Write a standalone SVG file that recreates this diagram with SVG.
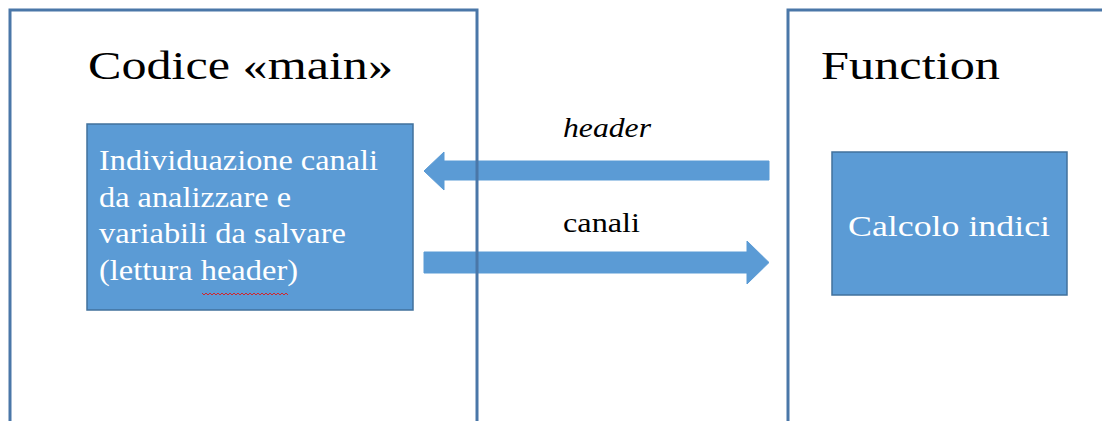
<svg xmlns="http://www.w3.org/2000/svg" width="1102" height="421" viewBox="0 0 1102 421">
  <style>
    .frame { fill: none; stroke: #4a77a8; stroke-width: 3; }
    .box { fill: #5b9bd5; stroke: #41719c; stroke-width: 1.5; }
    .arrow { fill: #5b9bd5; stroke: #5b9bd5; stroke-width: 1; }
    .title { font-family: "Liberation Serif", "Times New Roman", serif; font-size: 41px; fill: #000; }
    .label { font-family: "Liberation Serif", "Times New Roman", serif; font-size: 27px; fill: #000; }
    .inner { font-family: "Liberation Serif", "Times New Roman", serif; font-size: 29px; fill: #fff; }
  </style>
  <rect width="1102" height="421" fill="#fff"/>

  <!-- data flow between the two modules -->
  <g id="connectors">
    <polygon class="arrow" points="769,161 444,161 444,152 424,171 444,190 444,180 769,180"/>
    <polygon class="arrow" points="424,252 747,252 747,241 769,262.5 747,284 747,273 424,273"/>
    <text class="label" x="563" y="137" font-style="italic" textLength="88" lengthAdjust="spacingAndGlyphs">header</text>
    <text class="label" x="563" y="232" textLength="77" lengthAdjust="spacingAndGlyphs">canali</text>
  </g>

  <!-- main program -->
  <g id="main">
    <rect class="frame" x="10" y="10" width="467" height="430"/>
    <text class="title" x="88" y="79" textLength="305" lengthAdjust="spacingAndGlyphs">Codice «main»</text>
    <g id="main-step">
      <rect class="box" x="87" y="124" width="326" height="186"/>
      <text class="inner" x="99" y="170" textLength="279" lengthAdjust="spacingAndGlyphs">Individuazione canali</text>
      <text class="inner" x="99" y="207" textLength="192" lengthAdjust="spacingAndGlyphs">da analizzare e</text>
      <text class="inner" x="99" y="243" textLength="247" lengthAdjust="spacingAndGlyphs">variabili da salvare</text>
      <text class="inner" x="99" y="280" textLength="199" lengthAdjust="spacingAndGlyphs">(lettura header)</text>
      <path d="M202,293 l2,2 l2,-2 l2,2 l2,-2 l2,2 l2,-2 l2,2 l2,-2 l2,2 l2,-2 l2,2 l2,-2 l2,2 l2,-2 l2,2 l2,-2 l2,2 l2,-2 l2,2 l2,-2 l2,2 l2,-2 l2,2 l2,-2 l2,2 l2,-2 l2,2 l2,-2 l2,2 l2,-2 l2,2 l2,-2 l2,2 l2,-2 l2,2 l2,-2 l2,2 l2,-2 l2,2 l2,-2 l2,2 l2,-2 l2,2" fill="none" stroke="#d0282e" stroke-width="1"/>
    </g>
  </g>

  <!-- called function -->
  <g id="function">
    <rect class="frame" x="788" y="10" width="340" height="430"/>
    <text class="title" x="821" y="79" textLength="179" lengthAdjust="spacingAndGlyphs">Function</text>
    <g id="function-step">
      <rect class="box" x="832" y="152" width="235" height="143"/>
      <text class="inner" x="848" y="236" font-size="31" textLength="202" lengthAdjust="spacingAndGlyphs">Calcolo indici</text>
    </g>
  </g>
</svg>
